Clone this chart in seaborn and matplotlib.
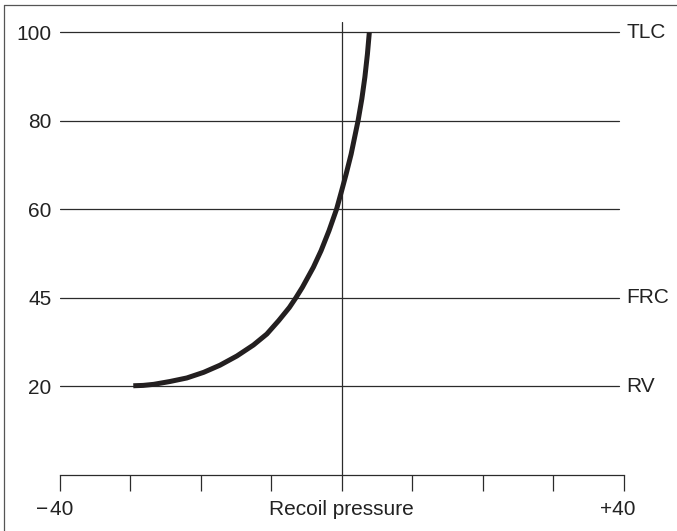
import numpy as np
import pandas as pd
import matplotlib
matplotlib.use("Agg")
import matplotlib.pyplot as plt
from matplotlib.lines import Line2D
import seaborn as sns

# lung volume levels (% of TLC) drawn as equally spaced rows
volume_levels = [20, 45, 60, 80, 100]
level_names = {20: "RV", 45: "FRC", 100: "TLC"}

# pressure-volume curve
pressure = [-29.6, -28.2, -26.7, -24.4, -22.0, -19.6, -17.3, -14.9, -12.55,
            -10.65, -8.96, -7.45, -6.54, -5.6, -4.04, -2.95, -1.82, -0.74,
            -0.03, 0.61, 1.32, 2.31, 2.84, 3.27, 3.63, 3.9]
volume = [20.2, 20.3, 20.6, 21.4, 22.4, 24.0, 26.0, 28.6, 31.7,
          34.8, 38.6, 42.3, 45.0, 46.8, 50.2, 53.0, 56.4, 60.1,
          64.2, 68.0, 72.5, 80.1, 85.0, 89.9, 95.1, 100.0]

x_ticks = [-40, -30, -20, -10, 0, 10, 20, 30, 40]

sns.set_style("white")
plt.rcParams["font.family"] = ["Liberation Sans", "DejaVu Sans"]

ink = "#2b2b2b"
txt = "#222222"
fs = 15
fig = plt.figure(figsize=(6.77, 5.31), dpi=100)
ax = fig.add_axes([60 / 677, 56 / 531, 563.7 / 677, 453.3 / 531])

# volume is drawn on a row scale: each level gets one row
level_pos = np.arange(len(volume_levels))
df = pd.DataFrame({
    "pressure": pressure,
    "row": np.interp(volume, volume_levels, level_pos),
})

for pos in level_pos:
    ax.plot([-40, 39.4], [pos, pos], color=ink, lw=0.9, zorder=1)
ax.axvline(0, color=ink, lw=0.9, zorder=1)

sns.lineplot(data=df, x="pressure", y="row", ax=ax, color="#231f20",
             lw=3.6, sort=False, zorder=3)
curve = ax.lines[-1]
curve.set_solid_capstyle("butt")
curve.set_solid_joinstyle("round")

ax.set_xlim(-40, 40)
ax.set_ylim(-1, 4.12)
ax.set_xticks(x_ticks)
ax.set_xticklabels([])
ax.tick_params(axis="x", direction="out", length=11.5, width=0.9,
               color=ink, bottom=True)
ax.set_yticks(level_pos)
ax.set_yticklabels([str(v) for v in volume_levels], fontsize=fs, color=txt)
ax.tick_params(axis="y", length=0, pad=6)
ax.set_xlabel("")
ax.set_ylabel("")
for side in ["top", "right", "left"]:
    ax.spines[side].set_visible(False)
ax.spines["bottom"].set_color(ink)
ax.spines["bottom"].set_linewidth(0.9)

for v, name in level_names.items():
    ax.text(40.4, volume_levels.index(v), name, fontsize=fs, color=txt,
            ha="left", va="center")

xt = ax.get_xaxis_transform()
ax.text(-40.8, -0.077, "\u2212\u200a40", transform=xt, ha="center",
        va="center", fontsize=fs, color=txt)
ax.text(0, -0.077, "Recoil pressure", transform=xt, ha="center", va="center",
        fontsize=fs, color=txt)
ax.text(39.1, -0.077, "+40", transform=xt, ha="center", va="center",
        fontsize=fs, color=txt)

# frame of the original picture (left and top edges)
fig.add_artist(Line2D([3.5 / 677, 3.5 / 677], [0, 1 - 4.5 / 531],
                      transform=fig.transFigure, color="#555", lw=0.9))
fig.add_artist(Line2D([3.5 / 677, 1], [1 - 4.5 / 531, 1 - 4.5 / 531],
                      transform=fig.transFigure, color="#555", lw=0.9))

fig.savefig("out.png", dpi=100)
